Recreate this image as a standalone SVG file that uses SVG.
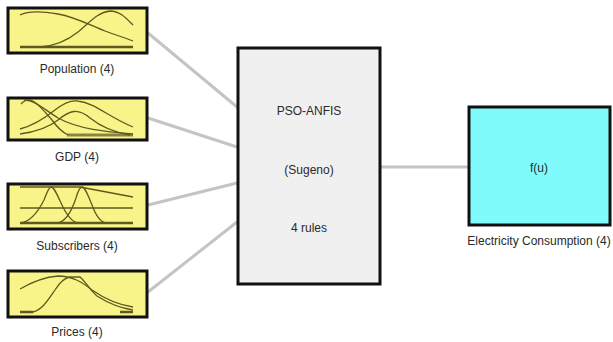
<svg xmlns="http://www.w3.org/2000/svg" width="613" height="342" viewBox="0 0 613 342">
<style>
  .bg{fill:#ffffff}
  .conn{stroke:#c4c4c4;stroke-width:3;fill:none;stroke-linecap:round}
  .inbox{fill:#f8f48a;stroke:#111;stroke-width:3}
  .fis{fill:#f0f0f0;stroke:#111;stroke-width:3}
  .outbox{fill:#80fbfb;stroke:#111;stroke-width:3}
  .mf{fill:none;stroke:#5e5a1e;stroke-width:1.3}
  .base{fill:none;stroke:#5e5a1e;stroke-width:2.5}
  text{font-family:"Liberation Sans",Arial,sans-serif;font-size:12px;fill:#2a2a2a;text-anchor:middle}
</style>
<rect class="bg" x="0" y="0" width="613" height="342"/>
<g id="connectors">
  <line class="conn" x1="148" y1="33" x2="237" y2="107"/>
  <line class="conn" x1="148" y1="118" x2="237" y2="147"/>
  <line class="conn" x1="148" y1="205" x2="237" y2="183"/>
  <line class="conn" x1="148" y1="292" x2="237" y2="222"/>
  <line class="conn" x1="380" y1="167" x2="468" y2="167"/>
</g>
<g id="population">
  <rect class="inbox" x="8" y="8" width="139" height="45"/>
  <path class="base" d="M20 47 H133"/>
  <path class="mf" d="M20 15 C28 11 40 11 58 14 C75 17 90 25 105 31 C118 36 126 38 133 41"/>
  <path class="mf" d="M40 47 C55 46 68 40 78 32 C90 22 98 12 110 11 C120 11 126 18 133 25"/>
  <text x="77" y="73">Population (4)</text>
</g>
<g id="gdp">
  <rect class="inbox" x="8" y="98" width="139" height="42"/>
  <path class="base" d="M67 135 H133" style="stroke:#8a8440;stroke-width:3"/>
  <path class="mf" d="M21 104 C25 100 28 99 31 100 C38 103 45 112 52 120 C57 127 62 132 68 135"/>
  <path class="mf" d="M24 100 C35 100 45 110 58 118 C80 130 110 132 133 134"/>
  <path class="mf" d="M20 129 C35 125 45 118 55 110 C65 102 72 100 78 101 C95 103 110 118 133 127"/>
  <path class="mf" d="M20 134 C35 132 48 128 58 120 C70 110 78 108 90 118 C100 126 112 132 130 135"/>
  <text x="77" y="161">GDP (4)</text>
</g>
<g id="subscribers">
  <rect class="inbox" x="8" y="184" width="139" height="45"/>
  <path class="base" d="M20 223 H133"/>
  <path class="mf" d="M20 187 H80 L133 197"/>
  <path class="mf" d="M20 208 H133"/>
  <path class="mf" d="M20 223 C30 222 38 212 44 200 C47 192 49 187 51 187 C54 187 57 194 61 203 C66 214 72 222 78 223"/>
  <path class="mf" d="M57 223 C66 222 72 210 76 198 C78 191 80 187 82 187 C85 187 88 195 92 205 C96 216 100 222 106 223"/>
  <text x="77" y="250">Subscribers (4)</text>
</g>
<g id="prices">
  <rect class="inbox" x="8" y="271" width="139" height="46"/>
  <path class="base" d="M20 312 H33 M120 312 H133"/>
  <path class="mf" d="M20 289 C32 282 45 277 58 276 C72 276 82 282 92 290 C105 299 120 305 133 307"/>
  <path class="mf" d="M33 312 C42 310 48 300 55 290 C60 282 64 278 70 277 L80 277 C86 282 90 290 97 296 C108 303 120 308 133 310"/>
  <text x="77" y="336">Prices (4)</text>
</g>
<g id="fis">
  <rect class="fis" x="238" y="48" width="142" height="236"/>
  <text x="309" y="115">PSO-ANFIS</text>
  <text x="309" y="174">(Sugeno)</text>
  <text x="309" y="232">4 rules</text>
</g>
<g id="output">
  <rect class="outbox" x="469" y="107" width="141" height="118"/>
  <text x="539" y="172">f(u)</text>
  <text x="539" y="245">Electricity Consumption (4)</text>
</g>
</svg>
